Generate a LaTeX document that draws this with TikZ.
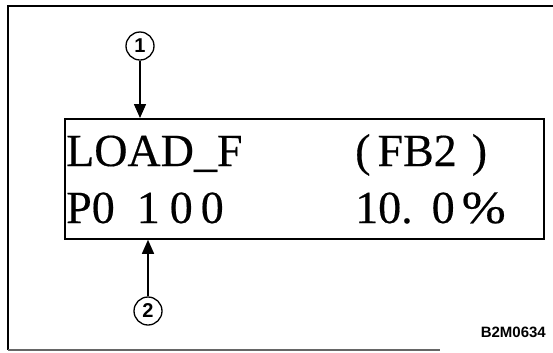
\documentclass[tikz,border=0pt]{standalone}
\usepackage{fontspec}
\setmainfont{Liberation Serif}
\newfontfamily\heavyserif[FakeBold=0.35]{Liberation Serif}
\newfontfamily\lsans{Liberation Sans}
\usetikzlibrary{arrows.meta}
\tikzset{
  frameline/.style={line width=2.2bp},
  panel/.style={draw, line width=1.8bp, minimum width=479bp, minimum height=120bp, anchor=north west, inner sep=0},
  disp/.style={anchor=base west, inner sep=0, font=\heavyserif\fontsize{46bp}{46bp}\selectfont},
  callout/.style={draw, circle, line width=1.3bp, minimum size=28bp, inner sep=0, font=\lsans\bfseries\fontsize{20bp}{20bp}\selectfont},
  pointer/.style={line width=1.5bp, -{Triangle[length=14bp,width=12bp]}},
  tag/.style={anchor=base east, inner sep=0, font=\lsans\bfseries\fontsize{15bp}{15bp}\selectfont}
}
\begin{document}
\begin{tikzpicture}[x=1bp,y=-1bp]
\useasboundingbox (0,0) rectangle (553,352);
% outer frame (cropped at right)
\coordinate (fbl) at (8,350);
\coordinate (ftl) at (8,6);
\coordinate (ftr) at (553,6);
\coordinate (fbr) at (440,350);
\draw[frameline] (fbl) -- (ftl) -- (ftr);
\draw[line width=1.5bp, black!60] (fbl) -- (fbr);
% display panel
\node[panel] (box) at (64,118) {};
\node[disp] (t1) at (66,166) {LOAD\_F};
\node[disp] (t2) at (355,166) {(\hspace{7bp}FB2\hspace{15bp})};
\node[disp] (t3) at (66,223) {P0\hspace{22bp}1\hspace{10bp}0\hspace{8bp}0};
\node[disp] (t4) at (355,223) {10.\hspace{19bp}0\hspace{7bp}\scalebox{1.15}[1]{\%}};
% callouts
\node[callout] (c1) at (140,46) {1};
\node[callout] (c2) at (148,311) {2};
\draw[pointer] (c1) -- (c1 |- box.north);
\draw[pointer] (c2) -- (c2 |- box.south);
\node[tag] (code) at (546,337) {B2M0634};
\end{tikzpicture}
\end{document}
